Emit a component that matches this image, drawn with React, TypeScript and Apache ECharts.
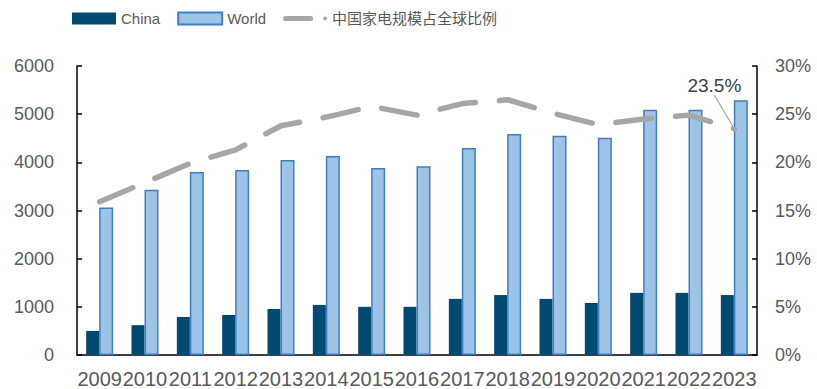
import React, { useEffect, useRef } from "react";
import * as echarts from "echarts";

const categories = ["2009","2010","2011","2012","2013","2014","2015","2016","2017","2018","2019","2020","2021","2022","2023"];
const chinaValues = [500, 620, 790, 830, 955, 1040, 1000, 1000, 1165, 1245, 1165, 1080, 1290, 1290, 1245];
const worldValues = [3060, 3430, 3800, 3840, 4050, 4130, 3880, 3920, 4300, 4590, 4550, 4510, 5090, 5090, 5290];
const shareValues = [15.9, 17.9, 19.9, 21.3, 23.8, 24.7, 25.8, 24.9, 26.1, 26.5, 25.1, 23.9, 24.5, 24.9, 23.5];
const leftTicks = { min: 0, max: 6000, interval: 1000 };
const rightTicks = { min: 0, max: 30, interval: 5 };

const FONT = "'Liberation Sans', Arial, 'Noto Sans CJK SC', sans-serif";
const TXT = "#595959";

export default function App() {
  const ref = useRef<HTMLDivElement>(null);
  useEffect(() => {
    if (!ref.current) return;
    const chart = echarts.init(ref.current, undefined, { renderer: "svg" });
    const lineIcon =
      "path://M0,0L0.05,0L0.05,0.05Z M44,12L43.95,12L43.95,11.95Z " +
      "M2.5,3.5L27.5,3.5A2.5,2.5 0 0 1 27.5,8.5L2.5,8.5A2.5,2.5 0 0 1 2.5,3.5Z " +
      "M40,6A2,2 0 1 0 44,6A2,2 0 1 0 40,6Z";
    const last = shareValues.length - 1;
    chart.setOption({
      animation: false,
      textStyle: { fontFamily: FONT },
      legend: {
        left: 67,
        top: 6,
        itemWidth: 44,
        itemHeight: 12,
        itemGap: 17,
        textStyle: { color: TXT, fontSize: 15, fontFamily: FONT },
        data: [
          { name: "China", icon: "rect" },
          { name: "World", icon: "rect" },
          { name: "中国家电规模占全球比例", icon: lineIcon },
        ],
      },
      grid: { left: 77, right: 60, top: 66, bottom: 34 },
      xAxis: {
        type: "category",
        data: categories,
        axisLine: { lineStyle: { color: "#000", width: 1.5 } },
        axisTick: { inside: true, length: 5, lineStyle: { color: "#000", width: 1.5 } },
        axisLabel: { interval: 0, color: TXT, fontSize: 20, margin: 14, fontFamily: FONT },
      },
      yAxis: [
        {
          type: "value",
          ...leftTicks,
          splitLine: { show: false },
          axisLine: { show: true, lineStyle: { color: "#000", width: 1.5 } },
          axisTick: { show: true, inside: true, length: 5, lineStyle: { color: "#000", width: 1.5 } },
          axisLabel: { color: TXT, fontSize: 18, margin: 23, fontFamily: FONT, formatter: (v: number) => String(v) },
        },
        {
          type: "value",
          ...rightTicks,
          position: "right",
          splitLine: { show: false },
          axisLine: { show: true, lineStyle: { color: "#000", width: 1.5 } },
          axisTick: { show: true, inside: true, length: 5, lineStyle: { color: "#000", width: 1.5 } },
          axisLabel: { color: TXT, fontSize: 18, margin: 18, fontFamily: FONT, formatter: "{value}%" },
        },
      ],
      series: [
        {
          name: "China",
          type: "bar",
          data: chinaValues,
          barWidth: 13,
          barGap: "0%",
          itemStyle: { color: "#004a72" },
        },
        {
          name: "World",
          type: "bar",
          data: worldValues,
          barWidth: 14,
          barGap: "0%",
          itemStyle: { color: "#9dc3e6", borderColor: "#3f7fc0", borderWidth: 1.5 },
        },
        {
          name: "中国家电规模占全球比例",
          type: "line",
          yAxisIndex: 1,
          symbol: "none",
          showSymbol: true,
          data: shareValues.map((v, i) =>
            i === last
              ? {
                  value: v,
                  symbol: "circle",
                  symbolSize: 5,
                  label: {
                    show: true,
                    position: "top",
                    formatter: v.toFixed(1) + "%",
                    color: "#404040",
                    fontSize: 19,
                    fontFamily: FONT,
                  },
                  labelLine: { show: true, lineStyle: { color: "#a6a6a6", width: 1.2 } },
                }
              : v
          ),
          labelLayout: { dx: -20, dy: -26 },
          labelLine: { show: true, lineStyle: { color: "#a6a6a6", width: 1.2 } },
          itemStyle: { color: "#a6a6a6" },
          lineStyle: { color: "#a6a6a6", width: 5.5, type: [36, 24], cap: "round", join: "round" },
          z: 5,
        },
      ],
    });
    return () => chart.dispose();
  }, []);
  return <div ref={ref} style={{ width: 817, height: 389, position: "absolute", left: 0, top: 0 }} />;
}
